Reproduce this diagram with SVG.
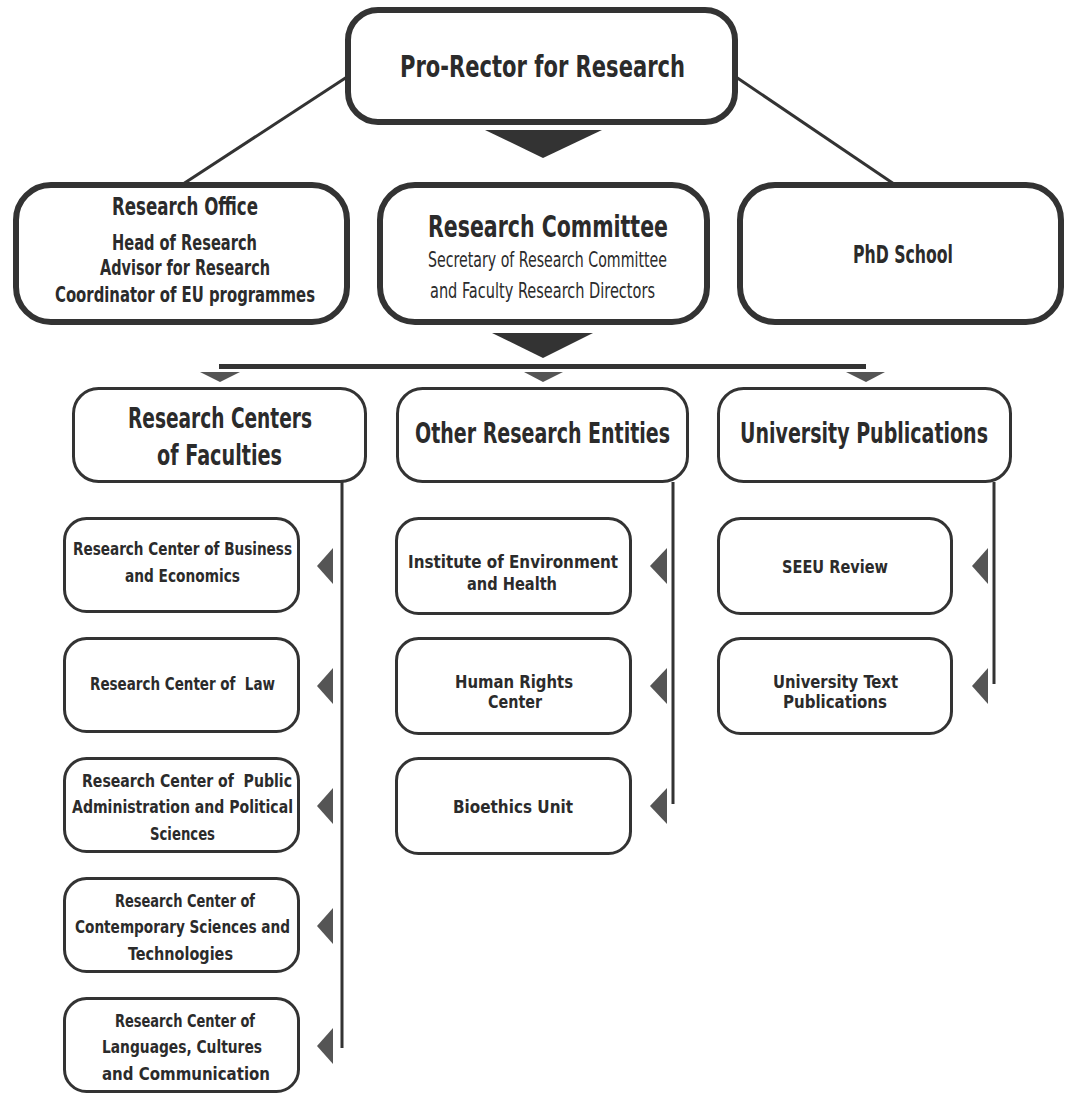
<svg xmlns="http://www.w3.org/2000/svg" width="1071" height="1093" viewBox="0 0 1071 1093">
<style>
  text { font-family: "DejaVu Sans Condensed", "Liberation Sans Narrow", "Roboto Condensed", "Liberation Sans", sans-serif; fill: #2b2b2b; text-anchor: middle; font-weight: bold; white-space: pre; }
  .big { fill: #fff; stroke: #333; stroke-width: 6; }
  .mid { fill: #fff; stroke: #333; stroke-width: 3; }
  .leaf { fill: #fff; stroke: #333; stroke-width: 3; }
  .conn { stroke: #333; stroke-width: 3; fill: none; }
  .tri { fill: #333; }
  .gtri { fill: #555; }
  .t1 { font-size: 31px; }
  .t2 { font-size: 24px; }
  .t3 { font-size: 21px; }
  .t3n { font-size: 21px; font-weight: normal; }
  .t4 { font-size: 28px; }
  .t5 { font-size: 18px; }
</style>
<rect width="1071" height="1093" fill="#fff"/>

<g id="connectors">
  <line class="conn" x1="350" y1="75" x2="180" y2="186"/>
  <line class="conn" x1="733" y1="75" x2="897" y2="186"/>
  <polygon class="tri" points="485,130 602,130 543,158"/>
  <polygon class="tri" points="492,333 593,333 543,358"/>
  <rect x="219" y="364" width="647" height="5" fill="#333"/>
  <polygon class="gtri" points="200,372 240,372 220,382"/>
  <polygon class="gtri" points="524,372 563,372 543,382"/>
  <polygon class="gtri" points="846,372 885,372 866,382"/>
  <line class="conn" x1="342" y1="482" x2="342" y2="1048"/>
  <line class="conn" x1="673" y1="482" x2="673" y2="804"/>
  <line class="conn" x1="994" y1="482" x2="994" y2="684"/>
  <polygon class="gtri" points="317,566 333,548 333,584"/>
  <polygon class="gtri" points="317,686 333,668 333,704"/>
  <polygon class="gtri" points="317,806 333,788 333,824"/>
  <polygon class="gtri" points="317,926 333,908 333,944"/>
  <polygon class="gtri" points="317,1046 333,1028 333,1064"/>
  <polygon class="gtri" points="650,566 667,548 667,584"/>
  <polygon class="gtri" points="650,686 667,668 667,704"/>
  <polygon class="gtri" points="650,806 667,788 667,824"/>
  <polygon class="gtri" points="972,566 988,548 988,584"/>
  <polygon class="gtri" points="972,686 988,668 988,704"/>
</g>

<g id="pro-rector">
  <rect class="big" x="348" y="10" width="387" height="112" rx="30"/>
  <text class="t1" x="542.5" y="77" textLength="285" lengthAdjust="spacingAndGlyphs">Pro-Rector for Research</text>
</g>

<g id="research-office">
  <rect class="big" x="16" y="185" width="331" height="137" rx="35"/>
  <text class="t2" x="185" y="215" textLength="146" lengthAdjust="spacingAndGlyphs">Research Office</text>
  <text class="t3" x="184.5" y="250" textLength="145" lengthAdjust="spacingAndGlyphs">Head of Research</text>
  <text class="t3" x="185" y="275" textLength="170" lengthAdjust="spacingAndGlyphs">Advisor for Research</text>
  <text class="t3" x="185" y="302" textLength="260" lengthAdjust="spacingAndGlyphs">Coordinator of EU programmes</text>
</g>

<g id="research-committee">
  <rect class="big" x="380" y="185" width="327" height="137" rx="35"/>
  <text class="t1" x="548" y="237" textLength="240" lengthAdjust="spacingAndGlyphs">Research Committee</text>
  <text class="t3n" x="547.5" y="267" textLength="239" lengthAdjust="spacingAndGlyphs">Secretary of Research Committee</text>
  <text class="t3n" x="542.5" y="298" textLength="225" lengthAdjust="spacingAndGlyphs">and Faculty Research Directors</text>
</g>

<g id="phd-school">
  <rect class="big" x="740" y="185" width="321" height="137" rx="35"/>
  <text class="t2" x="903" y="263" textLength="100" lengthAdjust="spacingAndGlyphs">PhD School</text>
</g>

<g id="research-centers">
  <rect class="mid" x="73.5" y="388.5" width="292" height="93" rx="25"/>
  <text class="t4" x="220" y="428" textLength="184" lengthAdjust="spacingAndGlyphs">Research Centers</text>
  <text class="t4" x="219.5" y="465" textLength="125" lengthAdjust="spacingAndGlyphs">of Faculties</text>
</g>

<g id="other-entities">
  <rect class="mid" x="397.5" y="388.5" width="290" height="93" rx="25"/>
  <text class="t4" x="542.5" y="443" textLength="255" lengthAdjust="spacingAndGlyphs">Other Research Entities</text>
</g>

<g id="university-publications">
  <rect class="mid" x="718.5" y="388.5" width="292" height="93" rx="25"/>
  <text class="t4" x="864" y="443" textLength="248" lengthAdjust="spacingAndGlyphs">University Publications</text>
</g>

<g id="rc-business">
  <rect class="leaf" x="64.5" y="518.5" width="234" height="93" rx="22"/>
  <text class="t5" x="182.5" y="555" textLength="219" lengthAdjust="spacingAndGlyphs">Research Center of Business</text>
  <text class="t5" x="182.5" y="582" textLength="115" lengthAdjust="spacingAndGlyphs">and Economics</text>
</g>

<g id="rc-law">
  <rect class="leaf" x="64.5" y="638.5" width="234" height="93" rx="22"/>
  <text class="t5" x="182.5" y="690" textLength="185" lengthAdjust="spacingAndGlyphs">Research Center of  Law</text>
</g>

<g id="rc-public">
  <rect class="leaf" x="64.5" y="758.5" width="234" height="93" rx="22"/>
  <text class="t5" x="187" y="787" textLength="210" lengthAdjust="spacingAndGlyphs">Research Center of  Public</text>
  <text class="t5" x="182.5" y="813" textLength="221" lengthAdjust="spacingAndGlyphs">Administration and Political</text>
  <text class="t5" x="182.5" y="840" textLength="65" lengthAdjust="spacingAndGlyphs">Sciences</text>
</g>

<g id="rc-contemporary">
  <rect class="leaf" x="64.5" y="878.5" width="234" height="93" rx="22"/>
  <text class="t5" x="185" y="907" textLength="140" lengthAdjust="spacingAndGlyphs">Research Center of</text>
  <text class="t5" x="182.5" y="933" textLength="215" lengthAdjust="spacingAndGlyphs">Contemporary Sciences and</text>
  <text class="t5" x="180.5" y="960" textLength="105" lengthAdjust="spacingAndGlyphs">Technologies</text>
</g>

<g id="rc-languages">
  <rect class="leaf" x="64.5" y="998.5" width="234" height="93" rx="22"/>
  <text class="t5" x="185" y="1027" textLength="140" lengthAdjust="spacingAndGlyphs">Research Center of</text>
  <text class="t5" x="182" y="1053" textLength="160" lengthAdjust="spacingAndGlyphs">Languages, Cultures</text>
  <text class="t5" x="186" y="1080" textLength="168" lengthAdjust="spacingAndGlyphs">and Communication</text>
</g>

<g id="institute-environment">
  <rect class="leaf" x="396.5" y="518.5" width="234" height="95" rx="22"/>
  <text class="t5" x="513" y="568" textLength="210" lengthAdjust="spacingAndGlyphs">Institute of Environment</text>
  <text class="t5" x="512" y="590" textLength="90" lengthAdjust="spacingAndGlyphs">and Health</text>
</g>

<g id="human-rights">
  <rect class="leaf" x="396.5" y="638.5" width="234" height="95" rx="22"/>
  <text class="t5" x="514" y="688" textLength="118" lengthAdjust="spacingAndGlyphs">Human Rights</text>
  <text class="t5" x="515" y="708" textLength="54" lengthAdjust="spacingAndGlyphs">Center</text>
</g>

<g id="bioethics">
  <rect class="leaf" x="396.5" y="758.5" width="234" height="95" rx="22"/>
  <text class="t5" x="513" y="813" textLength="120" lengthAdjust="spacingAndGlyphs">Bioethics Unit</text>
</g>

<g id="seeu-review">
  <rect class="leaf" x="718.5" y="518.5" width="233" height="95" rx="22"/>
  <text class="t5" x="835" y="573" textLength="106" lengthAdjust="spacingAndGlyphs">SEEU Review</text>
</g>

<g id="text-publications">
  <rect class="leaf" x="718.5" y="638.5" width="233" height="95" rx="22"/>
  <text class="t5" x="835.5" y="688" textLength="125" lengthAdjust="spacingAndGlyphs">University Text</text>
  <text class="t5" x="835" y="708" textLength="104" lengthAdjust="spacingAndGlyphs">Publications</text>
</g>
</svg>
